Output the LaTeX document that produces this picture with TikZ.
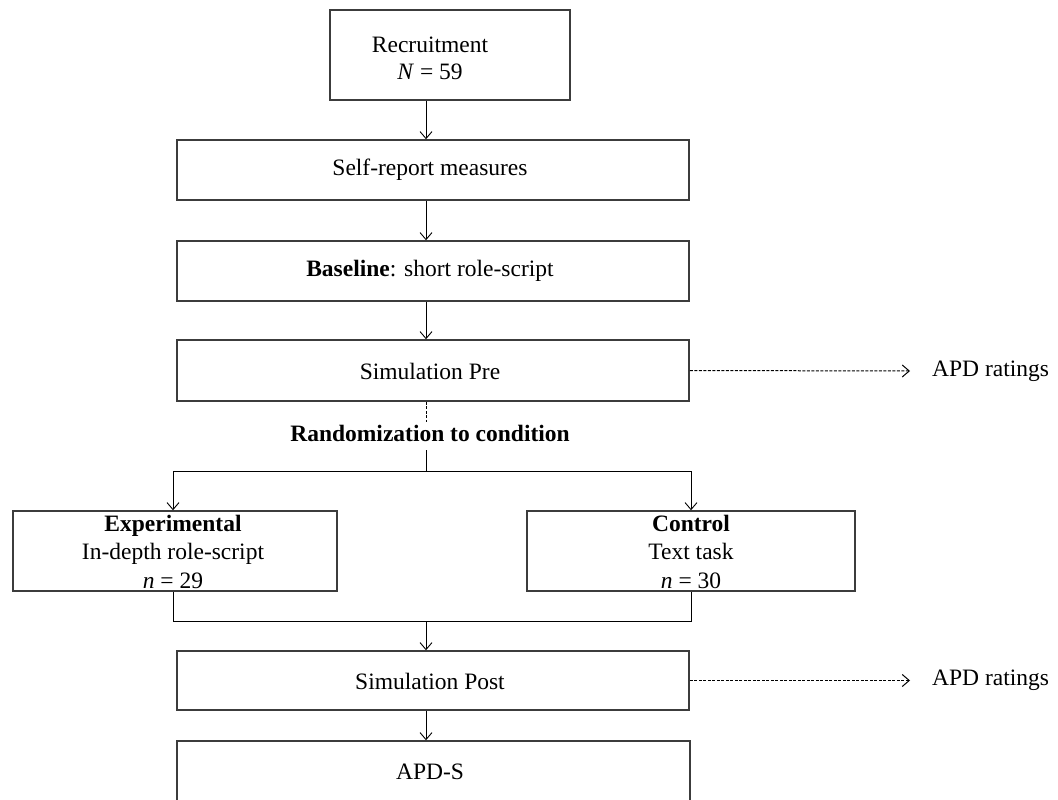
\documentclass[tikz,border=0pt]{standalone}
\usepackage{fontspec}
\setmainfont{Liberation Serif}
\usetikzlibrary{arrows.meta}
\definecolor{boxgray}{RGB}{60,60,60}
\begin{document}
\begin{tikzpicture}[x=1pt,y=-1pt,
  box/.style={draw=boxgray, line width=1.5pt, rectangle, inner sep=0pt},
  lbl/.style={font=\fontsize{23.5}{28.5}\selectfont, align=center, inner sep=0pt},
  flow/.style={draw=black, line width=0.9pt, -{Straight Barb[length=7pt,width=12pt]}},
  link/.style={draw=black, line width=0.9pt},
  dashline/.style={dash pattern=on 3pt off 1.5pt, line width=1pt},
  rate/.style={flow, dashline}]

% page frame
\clip (0,0) rectangle (1058,800);
\fill[white] (0,0) rectangle (1058,800);

% main spine of the flow
\coordinate (spine) at (426,0);

% boxes
\node[box, minimum width=240pt, minimum height=90pt] (rec)  at (450,55) {};
\node[box, minimum width=512pt, minimum height=60pt] (self) at (433,170) {};
\node[box, minimum width=512pt, minimum height=60pt] (base) at (433,271) {};
\node[box, minimum width=512pt, minimum height=61pt] (pre)  at (433,370.5) {};
\node[box, minimum width=324pt, minimum height=80pt] (exp)  at (175,551) {};
\node[box, minimum width=328pt, minimum height=80pt] (ctl)  at (691,551) {};
\node[box, minimum width=512pt, minimum height=59pt] (post) at (433,680.5) {};
\node[box, minimum width=513pt, minimum height=80pt] (apds) at (433.5,781) {};

% texts
\node[lbl] (recT)  at (430,58) {Recruitment\\[-1.5pt]\textit{N} = 59};
\node[lbl] (selfT) at (430,170) {Self-report measures};
\node[lbl] (baseT) at (430,271) {\textbf{Baseline}: short role-script};
\node[lbl] (preT)  at (430,371) {Simulation Pre};
\node[lbl] (rand)  at (430,433) {\textbf{Randomization to condition}};
\node[lbl] (expT)  at (173,551.5) {\textbf{Experimental}\\In-depth role-script\\\textit{n} = 29};
\node[lbl] (ctlT)  at (691,551.5) {\textbf{Control}\\Text task\\\textit{n} = 30};
\node[lbl] (postT) at (430,681) {Simulation Post};
\node[lbl] (apdsT) at (430,772) {APD-S};
\node[lbl, anchor=west] (rate1) at (932,371) {APD ratings};
\node[lbl, anchor=west] (rate2) at (932,680.5) {APD ratings};

% junction points
\coordinate (randtop) at (426,422);
\coordinate (randbot) at (426,450);
\coordinate (split) at (426,471);
\coordinate (join) at (426,621);

% connectors
\draw[flow] (spine |- rec.south) -- (spine |- self.north);
\draw[flow] (spine |- self.south) -- (spine |- base.north);
\draw[flow] (spine |- base.south) -- (spine |- pre.north);
\draw[link, dashline] (spine |- pre.south) -- (randtop);
\draw[link] (randbot) -- (split);
\draw[link] (split -| expT) -- (split -| ctl);
\draw[flow] (split -| expT) -- (expT |- exp.north);
\draw[flow] (split -| ctl) -- (ctl.north);
\draw[link] (expT |- exp.south) -- (join -| expT) -- (join -| ctl) -- (ctl.south);
\draw[flow] (join) -- (spine |- post.north);
\draw[flow] (spine |- post.south) -- (spine |- apds.north);
\draw[rate] (pre.east) -- ([xshift=-22pt]rate1.west);
\draw[rate] (post.east) -- ([xshift=-22pt]rate2.west);
\end{tikzpicture}
\end{document}
